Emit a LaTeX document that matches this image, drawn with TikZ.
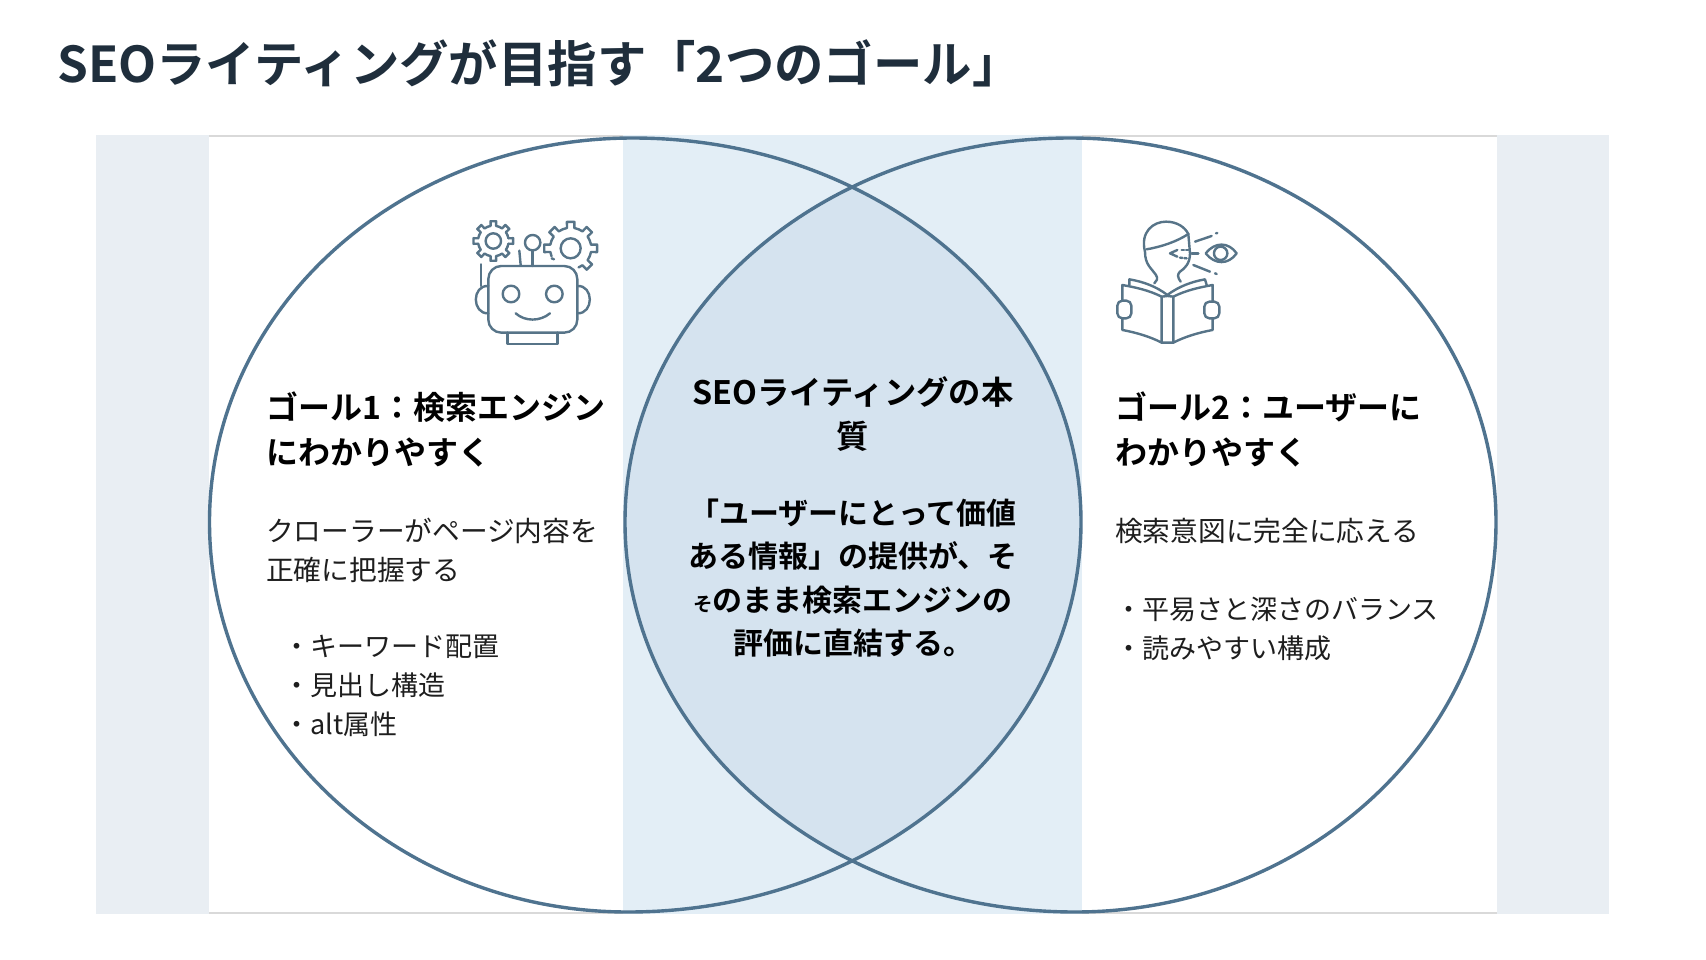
\documentclass[tikz,border=0pt]{standalone}
\usepackage{fontspec}
\usepackage{color}
\setmainfont{Noto Sans CJK JP}[BoldFont={Noto Sans CJK JP Bold}]
\usetikzlibrary{calc}
\definecolor{sideband}{HTML}{E9EEF3}
\definecolor{midband}{HTML}{E3EEF6}
\definecolor{lensfill}{HTML}{D5E3EF}
\definecolor{ringline}{HTML}{4F738F}
\definecolor{iconline}{HTML}{577488}
\definecolor{titleink}{HTML}{1F2E3C}
\definecolor{bodyink}{HTML}{1E1E1E}
\tikzset{
  titletext/.style={anchor=west,inner sep=0pt,text=titleink,font=\fontsize{49.4}{56}\selectfont\bfseries},
  headtext/.style={anchor=west,inner sep=0pt,align=left,text=black,font=\fontsize{32}{45}\selectfont\bfseries},
  bodytext/.style={anchor=west,inner sep=0pt,align=left,text=bodyink,font=\fontsize{27.7}{39}\selectfont},
  listtext/.style={anchor=west,inner sep=0pt,align=left,text=bodyink,font=\fontsize{27}{39}\selectfont},
  midhead/.style={inner sep=0pt,align=center,text=black,font=\fontsize{32.3}{44}\selectfont\bfseries},
  midtext/.style={inner sep=0pt,align=center,text=black,font=\fontsize{30}{43.5}\selectfont\bfseries},
  ring/.style={draw=ringline,line width=3.4pt},
  icon/.style={draw=iconline,line width=2.4pt,line cap=round,line join=round},
}
\newcommand{\gearteeth}[5]{
  \foreach \a in {#5}
    \draw[icon] ($(#1)+(\a-#4:#2)$)
      -- ($(#1)+(\a-0.45*#4:#2)$) -- ($(#1)+(\a-0.36*#4:#3)$)
      -- ($(#1)+(\a+0.36*#4:#3)$) -- ($(#1)+(\a+0.45*#4:#2)$) -- ($(#1)+(\a+#4:#2)$);
}
% outlines of the two rings, not quite ellipses
\newcommand{\ringleft}{(209.5,522) .. controls (209.5,310) and (399,138) .. (633,138)
  .. controls (880,138) and (1081,310) .. (1081,522)
  .. controls (1081,737) and (878,912) .. (628,912)
  .. controls (397,912) and (209.5,737) .. (209.5,522) -- cycle}
\newcommand{\ringright}{(625,522) .. controls (625,310) and (824,138) .. (1070,138)
  .. controls (1305,138) and (1496,310) .. (1496,522)
  .. controls (1496,737) and (1307.5,912) .. (1075,912)
  .. controls (826.5,912) and (625,737) .. (625,522) -- cycle}
\begin{document}
\begin{tikzpicture}[x=1pt,y=-1pt]
  \useasboundingbox (0,0) rectangle (1706,959);
  \fill[white] (0,0) rectangle (1706,959);

  % panel
  \fill[sideband] (96,135) rectangle (1609,914);
  \fill[white] (209,135) rectangle (1497,914);
  \fill[midband] (623,135) rectangle (1082,914);
  \draw[gray!30,line width=1.2pt] (209,136) -- (623,136);
  \draw[gray!30,line width=1.2pt] (1082,136) -- (1497,136);
  \draw[gray!30,line width=1.2pt] (209,913) -- (623,913);
  \draw[gray!30,line width=1.2pt] (1082,913) -- (1497,913);

  % lens and rings
  \begin{scope}
    \clip \ringleft;
    \fill[lensfill] \ringright;
  \end{scope}
  \draw[ring] \ringleft;
  \draw[ring] \ringright;

  \node[titletext] (title) at (57,63) {SEOライティングが目指す「2つのゴール」};

  \node[headtext] (goalA) at (266,429.5) {ゴール1：検索エンジン\\にわかりやすく};
  \node[bodytext] (introA) at (266,550.5) {クローラーがページ内容を\\正確に把握する};
  \node[listtext] (listA) at (283,686) {・キーワード配置\\・見出し構造\\・alt属性};

  \node[midhead] (midtitle) at (853,414) {SEOライティングの本\\質};
  \node[midtext] (midbody) at (853,578) {「ユーザーにとって価値\\ある情報」の提供が、そ\\\scalebox{.65}{そ}のまま検索エンジンの\\評価に直結する。};

  \node[headtext] (goalB) at (1115,429.5) {ゴール2：ユーザーに\\わかりやすく};
  \node[bodytext] (introB) at (1115,531) {検索意図に完全に応える};
  \node[listtext] (listB) at (1115,628.5) {・平易さと深さのバランス\\・読みやすい構成};

  % robot
  \begin{scope}[shift={(420,180)},x=0.3333pt,y=-0.3333pt]
    \draw[icon,rounded corners=13pt] (205,258) rectangle (472,458);
    \draw[icon] (205,318) .. controls (155,315) and (155,402) .. (205,400);
    \draw[icon] (472,318) .. controls (522,315) and (522,402) .. (472,400);
    \draw[icon] (263,458) -- (263,492) -- (413,492) -- (413,458);
    \draw[icon] (273,342) circle (8.3pt);
    \draw[icon] (403,342) circle (8.3pt);
    \draw[icon] (287,400) .. controls (315,425) and (360,425) .. (390,400);
    \draw[icon] (338,258) -- (338,212);
    \draw[icon] (338,188) circle (7.7pt);
    \draw[icon] (302,255) -- (298,212);
    \draw[icon] (183,253) -- (183,318);
    \coordinate (gearA) at (220,183);
    \coordinate (gearB) at (452,205);
    \draw[icon] (gearA) circle (7.7pt);
    \draw[icon] (gearB) circle (10pt);
    \gearteeth{gearA}{46}{60}{22.5}{0,45,...,315}
    \gearteeth{gearB}{62}{80}{22.5}{-135,-90,-45,0,45,180}
    \draw[icon] (395,235) -- (402,238);
  \end{scope}

  % reader
  \begin{scope}[shift={(1090,190)},x=0.3333pt,y=-0.3333pt]
    \draw[icon] (165,185) .. controls (150,125) and (190,95) .. (228,95)
      .. controls (262,95) and (285,112) .. (295,132);
    \draw[icon] (170,178) .. controls (215,170) and (260,155) .. (295,132);
    \draw[icon] (295,132) -- (300,190) .. controls (300,220) and (285,235) .. (270,245)
      .. controls (262,252) and (262,262) .. (272,275);
    \draw[icon] (165,185) .. controls (165,225) and (185,235) .. (198,255)
      .. controls (205,265) and (200,275) .. (193,280);
    \draw[icon] (262,180) -- (240,190) -- (262,200);
    \draw[icon,dotted] (275,180) -- (295,180);
    \draw[icon,dotted] (270,203) -- (290,205);
    \draw[icon] (315,155) -- (365,138);
    \draw[icon] (378,130) -- (382,129);
    \draw[icon] (305,190) -- (325,190);
    \draw[icon] (310,225) -- (360,245);
    \draw[icon] (375,250) -- (380,252);
    \draw[icon] (347,190) .. controls (375,155) and (415,155) .. (440,190)
      .. controls (415,225) and (375,225) .. (347,190);
    \draw[icon] (392,190) circle (6.7pt);
    \draw[icon] (215,458) -- (215,320) .. controls (175,300) and (135,292) .. (97,285)
      -- (97,420) .. controls (140,428) and (180,440) .. (215,458) -- (250,458)
      .. controls (285,440) and (325,428) .. (368,420) -- (368,285)
      .. controls (330,292) and (290,300) .. (250,320) -- (250,458);
    \draw[icon] (215,320) -- (232,318) -- (250,320);
    \draw[icon] (118,285) -- (118,268) .. controls (160,275) and (200,290) .. (232,315)
      .. controls (265,290) and (305,275) .. (345,268) -- (350,285);
    \draw[icon,fill=white,rounded corners=5pt] (82,332) rectangle (124,385);
    \draw[icon,fill=white,rounded corners=5pt] (343,335) rectangle (388,385);
  \end{scope}
\end{tikzpicture}
\end{document}
